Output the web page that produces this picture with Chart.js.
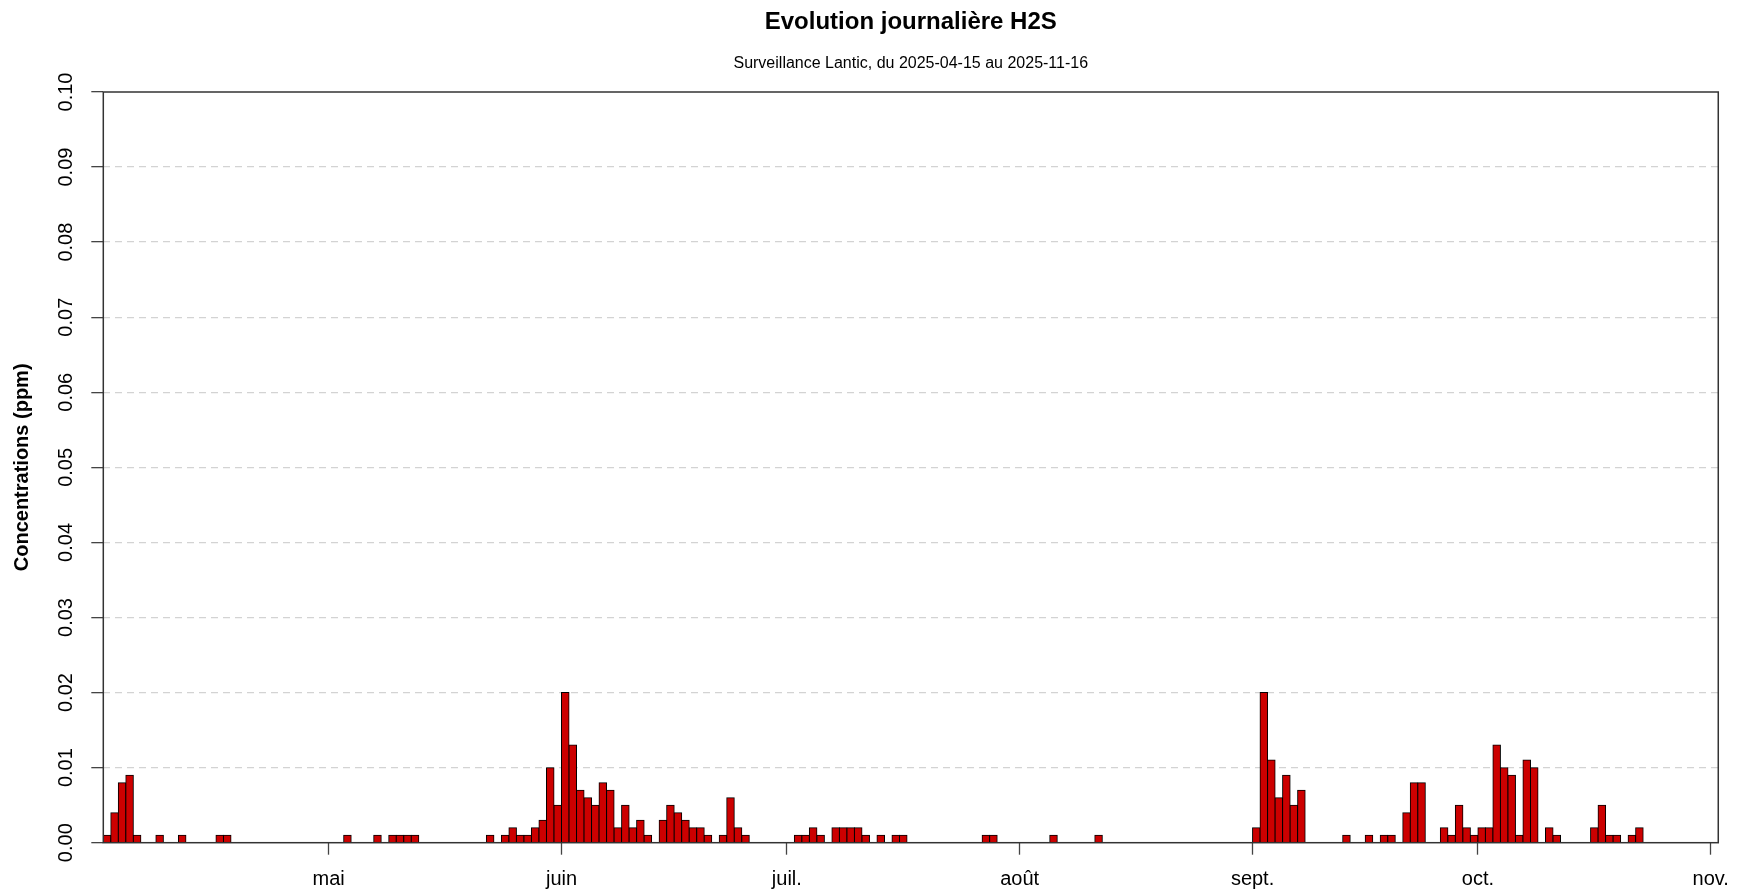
<!DOCTYPE html>
<html lang="fr">
<head>
<meta charset="utf-8">
<title>Evolution journalière H2S</title>
<script src="https://cdn.jsdelivr.net/npm/chart.js@4.4.1/dist/chart.umd.min.js"></script>
<style>
  html, body { margin: 0; padding: 0; background: #ffffff; }
  #wrap { width: 1742px; height: 894px; }
  canvas { display: block; }
</style>
</head>
<body>
<div id="wrap"><canvas id="h2s" width="1742" height="894"></canvas></div>
<script>
// Daily H2S concentrations (ppm), one value per day starting at startDate
const startDate = '2025-04-15';
const endDate = '2025-11-16';
const h2sValues = [
  0.001, 0.004, 0.008, 0.009, 0.001, 0, 0, 0.001, 0, 0,
  0.001, 0, 0, 0, 0, 0.001, 0.001, 0, 0, 0,
  0, 0, 0, 0, 0, 0, 0, 0, 0, 0,
  0, 0, 0.001, 0, 0, 0, 0.001, 0, 0.001, 0.001,
  0.001, 0.001, 0, 0, 0, 0, 0, 0, 0, 0,
  0, 0.001, 0, 0.001, 0.002, 0.001, 0.001, 0.002, 0.003, 0.010,
  0.005, 0.020, 0.013, 0.007, 0.006, 0.005, 0.008, 0.007, 0.002, 0.005,
  0.002, 0.003, 0.001, 0, 0.003, 0.005, 0.004, 0.003, 0.002, 0.002,
  0.001, 0, 0.001, 0.006, 0.002, 0.001, 0, 0, 0, 0,
  0, 0, 0.001, 0.001, 0.002, 0.001, 0, 0.002, 0.002, 0.002,
  0.002, 0.001, 0, 0.001, 0, 0.001, 0.001, 0, 0, 0,
  0, 0, 0, 0, 0, 0, 0, 0.001, 0.001, 0,
  0, 0, 0, 0, 0, 0, 0.001, 0, 0, 0,
  0, 0, 0.001, 0, 0, 0, 0, 0, 0, 0,
  0, 0, 0, 0, 0, 0, 0, 0, 0, 0,
  0, 0, 0, 0.002, 0.020, 0.011, 0.006, 0.009, 0.005, 0.007,
  0, 0, 0, 0, 0, 0.001, 0, 0, 0.001, 0,
  0.001, 0.001, 0, 0.004, 0.008, 0.008, 0, 0, 0.002, 0.001,
  0.005, 0.002, 0.001, 0.002, 0.002, 0.013, 0.010, 0.009, 0.001, 0.011,
  0.010, 0, 0.002, 0.001, 0, 0, 0, 0, 0.002, 0.005,
  0.001, 0.001, 0, 0.001, 0.002, 0, 0, 0, 0, 0,
  0, 0, 0, 0, 0, 0
];

// Month tick marks along the day axis (day offset from startDate) and their labels
const monthTickDays = [30, 61, 91, 122, 153, 183, 214];
const monthTickLabels = ['mai', 'juin', 'juil.', 'août', 'sept.', 'oct.', 'nov.'];

// Concentration axis ticks (ppm)
const yTickValues = [0, 0.01, 0.02, 0.03, 0.04, 0.05, 0.06, 0.07, 0.08, 0.09, 0.10];

const chartTitle = 'Evolution journalière H2S';
const chartSubtitle = 'Surveillance Lantic, du ' + startDate + ' au ' + endDate;
const yAxisTitle = 'Concentrations (ppm)';

// Calendar dates for each daily value
const dayLabels = h2sValues.map((_, i) => {
  const d = new Date(startDate + 'T00:00:00Z');
  d.setUTCDate(d.getUTCDate() + i);
  return d.toISOString().slice(0, 10);
});

// Each day occupies one unit on the x axis: bar i spans [i, i + 1]
const barPoints = h2sValues.map((v, i) => ({ x: i + 0.5, y: v, date: dayLabels[i] }));

const FONT = "'Liberation Sans', Arial, Helvetica, sans-serif";
const INK = '#000000';
const AXIS = '#333333';

// Titles, rotated y tick labels and the frame around the plotting region
const decorations = {
  id: 'decorations',
  afterDraw(chart) {
    const { ctx, chartArea: a } = chart;
    const cx = (a.left + a.right) / 2;
    ctx.save();
    ctx.fillStyle = INK;
    ctx.textAlign = 'center';
    ctx.textBaseline = 'alphabetic';
    ctx.font = 'bold 24px ' + FONT;
    ctx.fillText(chartTitle, cx, 29);
    ctx.font = '16px ' + FONT;
    ctx.fillText(chartSubtitle, cx, 67.5);

    // y tick labels, written vertically
    const ys = chart.scales.y;
    ctx.font = '20px ' + FONT;
    ctx.textBaseline = 'middle';
    yTickValues.forEach(v => {
      const py = ys.getPixelForValue(v);
      ctx.save();
      ctx.translate(66, py);
      ctx.rotate(-Math.PI / 2);
      ctx.fillText(v.toFixed(2), 0, 0);
      ctx.restore();
    });

    // frame
    ctx.strokeStyle = AXIS;
    ctx.lineWidth = 1.5;
    ctx.strokeRect(a.left, a.top, a.right - a.left, a.bottom - a.top);
    ctx.restore();
  }
};

new Chart(document.getElementById('h2s'), {
  type: 'bar',
  data: {
    datasets: [{
      label: 'H2S',
      data: barPoints,
      backgroundColor: c => (c.raw && c.raw.y > 0 ? '#CC0000' : 'rgba(0,0,0,0)'),
      borderColor: '#000000',
      borderWidth: c => (c.raw && c.raw.y > 0 ? 1 : 0),
      borderSkipped: 'start',
      inflateAmount: 0.5,
      barPercentage: 1,
      categoryPercentage: 1
    }]
  },
  options: {
    responsive: false,
    animation: false,
    events: [],
    layout: { padding: { left: 0, right: 18, top: 92, bottom: 0 } },
    plugins: {
      legend: { display: false },
      title: { display: false },
      tooltip: { enabled: false }
    },
    scales: {
      x: {
        type: 'linear',
        min: 0,
        max: 215,
        offset: false,
        afterFit: s => { s.height = 51.3; },
        afterBuildTicks: s => { s.ticks = monthTickDays.map(v => ({ value: v })); },
        ticks: {
          autoSkip: false,
          maxRotation: 0,
          padding: 13,
          color: INK,
          font: { family: FONT, size: 20 },
          callback: (value, index) => monthTickLabels[index]
        },
        grid: {
          offset: false,
          drawOnChartArea: false,
          drawTicks: true,
          tickLength: 12,
          tickColor: '#444444',
          tickWidth: 1.3
        },
        border: { display: false }
      },
      y: {
        type: 'linear',
        min: 0,
        max: 0.1,
        afterFit: s => { s.width = 103.3; },
        afterBuildTicks: s => { s.ticks = yTickValues.map(v => ({ value: v })); },
        ticks: { display: false },
        title: {
          display: true,
          text: yAxisTitle,
          color: INK,
          font: { family: FONT, size: 20, weight: 'bold' },
          padding: { top: 10.5, bottom: 0 }
        },
        grid: {
          drawTicks: true,
          tickLength: 12,
          tickColor: '#444444',
          tickWidth: 1.3,
          tickBorderDash: [],
          lineWidth: 1.3,
          color: c => {
            const v = c.tick ? c.tick.value : 0;
            return (v < 1e-9 || v > 0.0999) ? 'rgba(0,0,0,0)' : '#D3D3D3';
          }
        },
        border: { display: false, dash: [7, 5] }
      }
    }
  },
  plugins: [decorations]
});
</script>
</body>
</html>
